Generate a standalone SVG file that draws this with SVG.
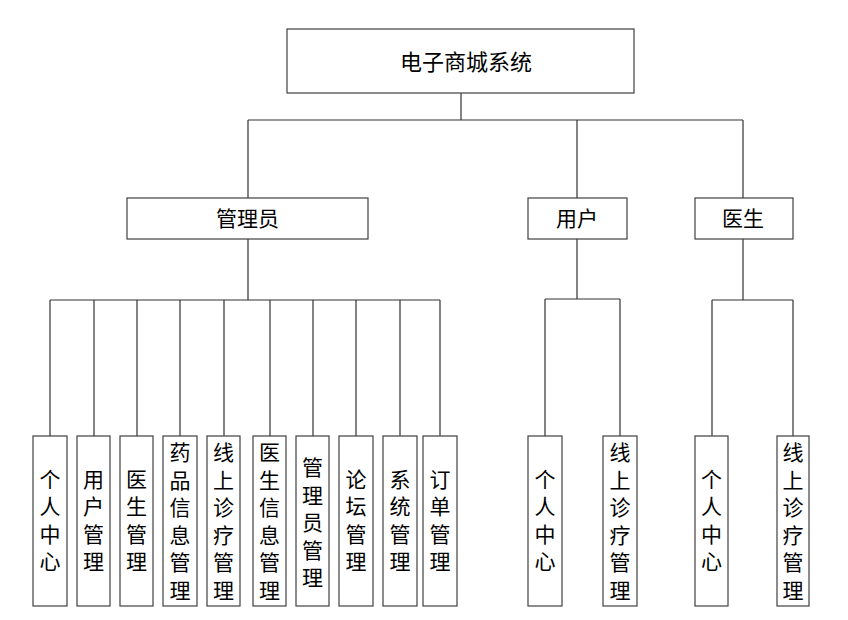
<svg xmlns="http://www.w3.org/2000/svg" width="848" height="620" viewBox="0 0 848 620">
<style>
.box{fill:#fff;stroke:#404040;stroke-width:1.2}
.ln{fill:none;stroke:#333;stroke-width:1.2}
text{font-family:"Noto Sans CJK SC","Noto Sans",sans-serif;font-size:21px;fill:#000;text-anchor:middle}
.big{font-size:22px}
</style>
<rect width="848" height="620" fill="#fff"/>
<g id="connectors">
<path class="ln" d="M461 93V120M248 120H743M248 120V198M577 120V198M743 120V198"/>
<path class="ln" d="M248 239V300M50 300H440M50 300V436M94 300V436M137 300V436M180 300V436M224 300V436M270 300V436M313 300V436M356 300V436M400 300V436M440 300V436"/>
<path class="ln" d="M577 239V299M545 299H620M545 299V436M620 299V436"/>
<path class="ln" d="M743 239V300M712 300H793M712 300V436M793 300V436"/>
</g>
<g id="root"><rect class="box" x="287" y="29" width="347" height="64"/><text class="big" x="466" y="69.5">电子商城系统</text></g>
<g id="admin"><rect class="box" x="127" y="198" width="241" height="41"/><text x="247.5" y="226">管理员</text></g>
<g id="user"><rect class="box" x="528" y="198" width="99" height="41"/><text x="577" y="226">用户</text></g>
<g id="doctor"><rect class="box" x="695" y="198" width="98" height="41"/><text x="743" y="226">医生</text></g>
<g id="a1"><rect class="box" x="33" y="436" width="34" height="170"/><text x="50"><tspan x="50" y="486.5">个</tspan><tspan x="50" dy="27.5">人</tspan><tspan x="50" dy="27.5">中</tspan><tspan x="50" dy="27.5">心</tspan></text></g>
<g id="a2"><rect class="box" x="77" y="436" width="33" height="170"/><text x="93.5"><tspan x="93.5" y="486.5">用</tspan><tspan x="93.5" dy="27.5">户</tspan><tspan x="93.5" dy="27.5">管</tspan><tspan x="93.5" dy="27.5">理</tspan></text></g>
<g id="a3"><rect class="box" x="120" y="436" width="33" height="170"/><text x="136.5"><tspan x="136.5" y="486.5">医</tspan><tspan x="136.5" dy="27.5">生</tspan><tspan x="136.5" dy="27.5">管</tspan><tspan x="136.5" dy="27.5">理</tspan></text></g>
<g id="a4"><rect class="box" x="163" y="436" width="34" height="170"/><text x="180"><tspan x="180" y="460">药</tspan><tspan x="180" dy="27.5">品</tspan><tspan x="180" dy="27.5">信</tspan><tspan x="180" dy="27.5">息</tspan><tspan x="180" dy="27.5">管</tspan><tspan x="180" dy="27.5">理</tspan></text></g>
<g id="a5"><rect class="box" x="207" y="436" width="33" height="170"/><text x="223.5"><tspan x="223.5" y="460">线</tspan><tspan x="223.5" dy="27.5">上</tspan><tspan x="223.5" dy="27.5">诊</tspan><tspan x="223.5" dy="27.5">疗</tspan><tspan x="223.5" dy="27.5">管</tspan><tspan x="223.5" dy="27.5">理</tspan></text></g>
<g id="a6"><rect class="box" x="253" y="436" width="33" height="170"/><text x="269.5"><tspan x="269.5" y="460">医</tspan><tspan x="269.5" dy="27.5">生</tspan><tspan x="269.5" dy="27.5">信</tspan><tspan x="269.5" dy="27.5">息</tspan><tspan x="269.5" dy="27.5">管</tspan><tspan x="269.5" dy="27.5">理</tspan></text></g>
<g id="a7"><rect class="box" x="296" y="436" width="33" height="170"/><text x="312.5"><tspan x="312.5" y="475">管</tspan><tspan x="312.5" dy="27.5">理</tspan><tspan x="312.5" dy="27.5">员</tspan><tspan x="312.5" dy="27.5">管</tspan><tspan x="312.5" dy="27.5">理</tspan></text></g>
<g id="a8"><rect class="box" x="339" y="436" width="34" height="170"/><text x="356"><tspan x="356" y="486.5">论</tspan><tspan x="356" dy="27.5">坛</tspan><tspan x="356" dy="27.5">管</tspan><tspan x="356" dy="27.5">理</tspan></text></g>
<g id="a9"><rect class="box" x="383" y="436" width="34" height="170"/><text x="400"><tspan x="400" y="486.5">系</tspan><tspan x="400" dy="27.5">统</tspan><tspan x="400" dy="27.5">管</tspan><tspan x="400" dy="27.5">理</tspan></text></g>
<g id="a10"><rect class="box" x="423" y="436" width="34" height="170"/><text x="440"><tspan x="440" y="486.5">订</tspan><tspan x="440" dy="27.5">单</tspan><tspan x="440" dy="27.5">管</tspan><tspan x="440" dy="27.5">理</tspan></text></g>
<g id="u1"><rect class="box" x="528" y="436" width="34" height="170"/><text x="545"><tspan x="545" y="486.5">个</tspan><tspan x="545" dy="27.5">人</tspan><tspan x="545" dy="27.5">中</tspan><tspan x="545" dy="27.5">心</tspan></text></g>
<g id="u2"><rect class="box" x="603" y="436" width="34" height="170"/><text x="620"><tspan x="620" y="460">线</tspan><tspan x="620" dy="27.5">上</tspan><tspan x="620" dy="27.5">诊</tspan><tspan x="620" dy="27.5">疗</tspan><tspan x="620" dy="27.5">管</tspan><tspan x="620" dy="27.5">理</tspan></text></g>
<g id="d1"><rect class="box" x="695" y="436" width="33" height="170"/><text x="711.5"><tspan x="711.5" y="486.5">个</tspan><tspan x="711.5" dy="27.5">人</tspan><tspan x="711.5" dy="27.5">中</tspan><tspan x="711.5" dy="27.5">心</tspan></text></g>
<g id="d2"><rect class="box" x="777" y="436" width="32" height="170"/><text x="793"><tspan x="793" y="460">线</tspan><tspan x="793" dy="27.5">上</tspan><tspan x="793" dy="27.5">诊</tspan><tspan x="793" dy="27.5">疗</tspan><tspan x="793" dy="27.5">管</tspan><tspan x="793" dy="27.5">理</tspan></text></g>
</svg>
